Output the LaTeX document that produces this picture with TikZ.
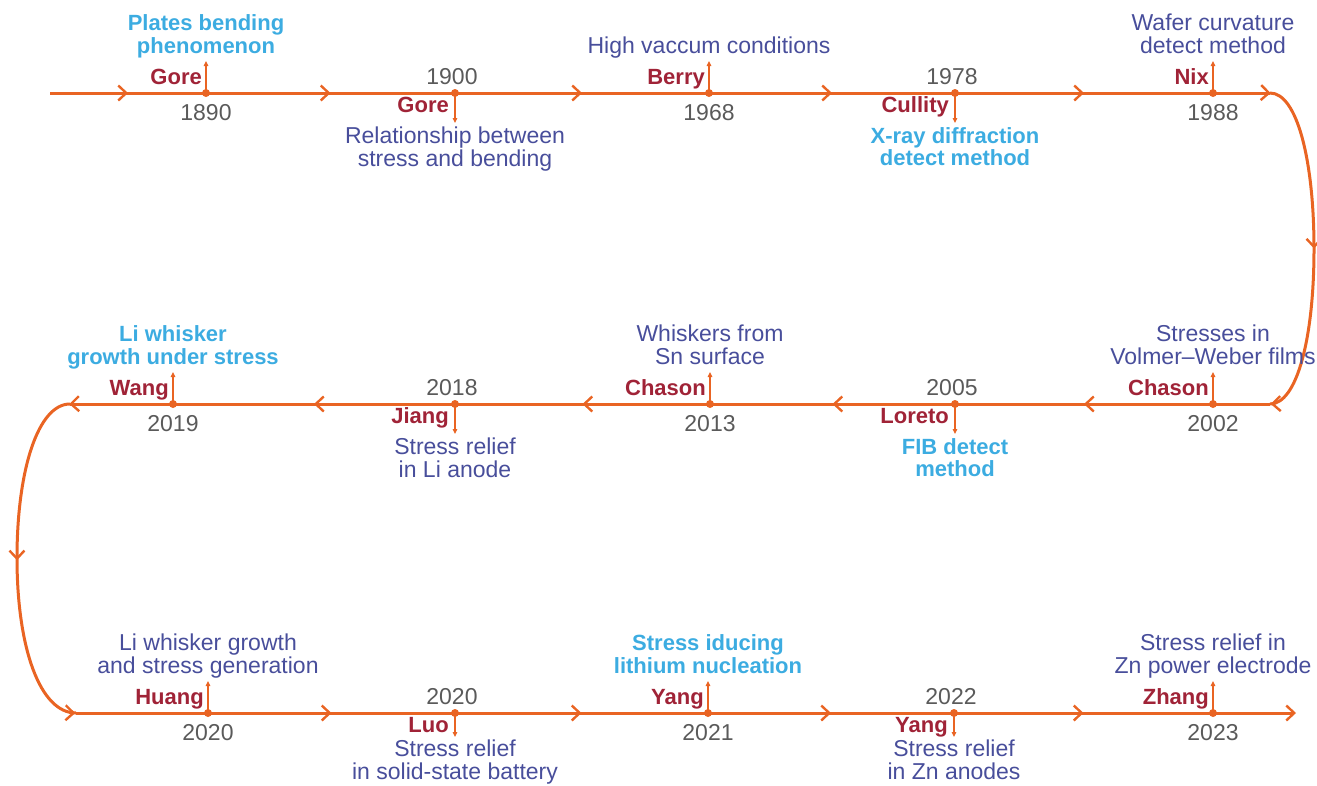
\documentclass[tikz,border=0pt]{standalone}
\usepackage{fontspec}
\setmainfont{Liberation Sans}
\usetikzlibrary{arrows.meta,decorations.markings}

\definecolor{lineorange}{RGB}{233,100,35}
\definecolor{namered}{RGB}{160,35,55}
\definecolor{yeargray}{RGB}{90,90,90}
\definecolor{darkblue}{RGB}{72,78,155}
\definecolor{lightblue}{RGB}{60,172,225}

\tikzset{
  chev/.tip={Straight Barb[length=8pt,width=15pt,line width=2.4pt]},
  timeline/.style={draw=lineorange,line width=3pt},
  midchevron/.style={postaction={decorate},
    decoration={markings,mark=at position 0.5 with {\arrow{chev}}}},
  turnchevron/.style={postaction={decorate},
    decoration={markings,
      mark=at position 0.002 with {\arrow{chev}},
      mark=at position 0.5 with {\arrow{chev}},
      mark=at position 0.998 with {\arrow{chev}}}},
  eventarrow/.style={draw=lineorange,line width=1.2pt,-{Triangle[length=5pt,width=4.5pt]}},
  who/.style={text=namered,inner sep=0pt,font=\fontsize{22}{22}\selectfont\bfseries},
  year/.style={text=yeargray,inner sep=0pt,font=\fontsize{23}{23}\selectfont},
  desc/.style={inner sep=0pt,align=center,
    execute at begin node=\strut,execute at end node=\strut},
  dark/.style={text=darkblue,font=\fontsize{23}{22.5}\selectfont},
  light/.style={text=lightblue,font=\fontsize{22}{22.5}\selectfont\bfseries}
}

\begin{document}
\begin{tikzpicture}[x=1pt,y=-1pt]
  \useasboundingbox (0,0) rectangle (1317,785);
  % points on the three rows
  \coordinate (s0) at (50,93);
  \coordinate (a1) at (206,93);
  \coordinate (a2) at (455,93);
  \coordinate (a3) at (709,93);
  \coordinate (a4) at (955,93);
  \coordinate (a5) at (1213,93);
  \coordinate (r1) at (1270,93);
  \coordinate (r2) at (1314,249);
  \coordinate (r3) at (1270,404);
  \coordinate (b1) at (1213,404);
  \coordinate (b2) at (955,404);
  \coordinate (b3) at (710,404);
  \coordinate (b4) at (455,404);
  \coordinate (b5) at (173,404);
  \coordinate (l1) at (70,404);
  \coordinate (l2) at (17,558);
  \coordinate (l3) at (76,713);
  \coordinate (c1) at (208,713);
  \coordinate (c2) at (455,713);
  \coordinate (c3) at (708,713);
  \coordinate (c4) at (954,713);
  \coordinate (c5) at (1213,713);
  \coordinate (e0) at (1296,713);
  % the timeline
  \foreach \u/\v in {s0/a1,a1/a2,a2/a3,a3/a4,a4/a5,b1/b2,b2/b3,b3/b4,b4/b5,
                     c1/c2,c2/c3,c3/c4,c4/c5}
    \draw[timeline,midchevron] (\u) -- (\v);
  \draw[timeline] (a5) -- (r1) (r3) -- (b1) (b5) -- (l1) (l3) -- (c1);
  \draw[timeline,turnchevron] (r1) .. controls (1297,93) and (1314,160) .. (r2)
    .. controls (1314,338) and (1297,404) .. (r3);
  \draw[timeline,turnchevron] (l1) .. controls (38,404) and (17,470) .. (l2)
    .. controls (17,648) and (40,713) .. (l3);
  \draw[timeline,-chev] (c5) -- (e0);
  % events above the line
  \foreach \p/\name/\yr/\txt/\tone in {
      a1/Gore/1890/{Plates bending\\phenomenon}/light,
      a3/Berry/1968/{High vaccum conditions}/dark,
      a5/Nix/1988/{Wafer curvature\\detect method}/dark,
      b1/Chason/2002/{Stresses in\\Volmer–Weber films}/dark,
      b3/Chason/2013/{Whiskers from\\Sn surface}/dark,
      b5/Wang/2019/{Li whisker\\growth under stress}/light,
      c1/Huang/2020/{Li whisker growth\\and stress generation}/dark,
      c3/Yang/2021/{Stress iducing\\lithium nucleation}/light,
      c5/Zhang/2023/{Stress relief in\\Zn power electrode}/dark}{
    \draw[eventarrow] (\p) -- ++(0,-32) coordinate (t\p);
    \fill[lineorange] (\p) circle (4pt);
    \node[who,anchor=base east] (w\p) at ([shift={(-4pt,9pt)}]\p) {\name};
    \node[year,anchor=base] (y\p) at ([yshift=-27pt]\p) {\yr};
    \node[desc,\tone,anchor=south] (d\p) at ([yshift=33pt]\p) {\txt};
  }
  % events below the line
  \foreach \p/\name/\yr/\txt/\tone/\len/\dy in {
      a2/Gore/1900/{Relationship between\\stress and bending}/dark/30/34,
      a4/Cullity/1978/{X-ray diffraction\\detect method}/light/30/34,
      b2/Loreto/2005/{FIB detect\\method}/light/30/34,
      b4/Jiang/2018/{Stress relief\\in Li anode}/dark/30/34,
      c2/Luo/2020/{Stress relief\\in solid-state battery}/dark/24/27,
      c4/Yang/2022/{Stress relief\\in Zn anodes}/dark/24/27}{
    \draw[eventarrow] (\p) -- ++(0,\len) coordinate (t\p);
    \fill[lineorange] (\p) circle (4pt);
    \node[who,anchor=base east] (w\p) at ([shift={(-6pt,-19pt)}]\p) {\name};
    \node[year,anchor=base] (y\p) at ([shift={(-3pt,9pt)}]\p) {\yr};
    \node[desc,\tone,anchor=north] (d\p) at ([yshift=-\dy pt]\p) {\txt};
  }
\end{tikzpicture}
\end{document}
